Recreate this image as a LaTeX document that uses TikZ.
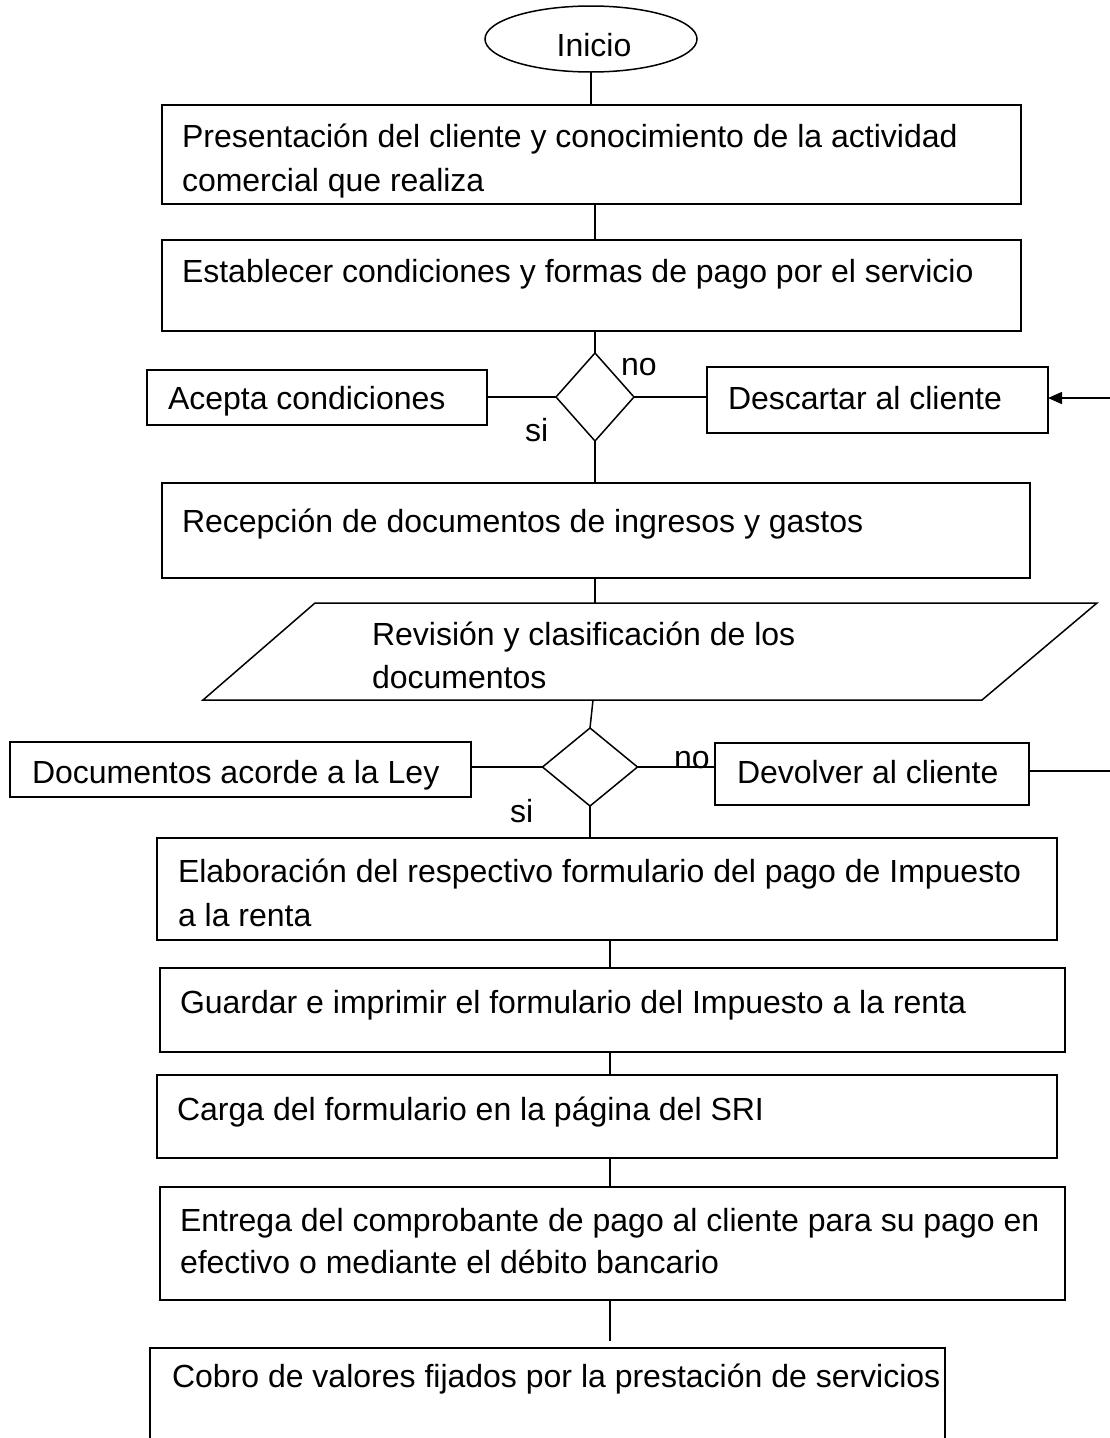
\documentclass[tikz,border=0pt]{standalone}
\usepackage{fontspec}
\setmainfont{Liberation Sans}
\usetikzlibrary{shapes.geometric,arrows.meta}
\begin{document}
\begin{tikzpicture}[x=1pt,y=-1pt,
  every node/.style={outer sep=0pt},
  box/.style={draw, line width=1.5pt, rectangle, anchor=north west, inner sep=0pt},
  txt/.style={anchor=base west, inner sep=0pt, font=\fontsize{32}{44}\selectfont},
  conn/.style={line width=1.5pt},
  dec/.style={draw, line width=1.5pt, diamond, inner sep=0pt},
]
\useasboundingbox (0,0) rectangle (1110,1438);

% start
\node[draw, line width=1.5pt, ellipse, minimum width=212, minimum height=66, inner sep=0pt] (start) at (591,39) {};
\node[anchor=base, inner sep=0pt, font=\fontsize{32}{44}\selectfont] (tstart) at (594,56) {Inicio};

% main boxes
\node[box, minimum width=859, minimum height=99] (b1) at (162,105) {};
\node[txt] (t1a) at (182,147) {Presentación del cliente y conocimiento de la actividad};
\node[txt] (t1b) at (182,191) {comercial que realiza};

\node[box, minimum width=859, minimum height=91] (b2) at (162,240) {};
\node[txt] (t2) at (182,282) {Establecer condiciones y formas de pago por el servicio};

% decision 1
\node[dec, minimum width=78, minimum height=88] (d1) at (595,397) {};
\node[box, minimum width=340, minimum height=55] (acc) at (147,370) {};
\node[txt] (tacc) at (168,409) {Acepta condiciones};
\node[box, minimum width=341, minimum height=66] (desc) at (707,367) {};
\node[txt] (tdesc) at (728,409) {Descartar al cliente};
\node[txt] (no1) at (621,375) {no};
\node[txt] (si1) at (525,441) {si};

\node[box, minimum width=868, minimum height=95] (b3) at (162,483) {};
\node[txt] (t3) at (182,532) {Recepción de documentos de ingresos y gastos};

% parallelogram
\draw[line width=1.5pt] (315,603) -- (1097,603) -- (982,700) -- (203,700) -- cycle;
\coordinate (ptop) at (595,603);
\coordinate (pbot) at (593,700);
\node[txt] (tpa) at (372,645) {Revisión y clasificación de los};
\node[txt] (tpb) at (372,688) {documentos};

% decision 2
\node[dec, minimum width=95, minimum height=78] (d2) at (590,767) {};
\node[box, minimum width=461, minimum height=55] (ley) at (10,742) {};
\node[txt] (tley) at (32,783) {Documentos acorde a la Ley};
\node[box, minimum width=314, minimum height=62] (dev) at (715,743) {};
\node[txt] (tdev) at (737,783) {Devolver al cliente};
\node[txt] (no2) at (674,768) {no};
\node[txt] (si2) at (510,822) {si};

\node[box, minimum width=900, minimum height=102] (b4) at (157,838) {};
\node[txt] (t4a) at (178,882) {Elaboración del respectivo formulario del pago de Impuesto};
\node[txt] (t4b) at (178,926) {a la renta};

\node[box, minimum width=905, minimum height=84] (b5) at (160,968) {};
\node[txt] (t5) at (180,1013) {Guardar e imprimir el formulario del Impuesto a la renta};

\node[box, minimum width=900, minimum height=83] (b6) at (157,1075) {};
\node[txt] (t6) at (177,1120) {Carga del formulario en la página del SRI};

\node[box, minimum width=905, minimum height=113] (b7) at (160,1187) {};
\node[txt] (t7a) at (180,1231) {Entrega del comprobante de pago al cliente para su pago en};
\node[txt] (t7b) at (180,1273) {efectivo o mediante el débito bancario};

\node[box, minimum width=795, minimum height=120] (b8) at (150,1348) {};
\node[txt] (t8) at (172,1387) {Cobro de valores fijados por la prestación de servicios};

\coordinate (edge1) at (1112,398);
\coordinate (edge2) at (1112,771);

% connectors
\draw[conn] (start.south) -- (start.south |- b1.north);
\draw[conn] (595,204) -- (595,240);
\draw[conn] (595,331) -- (d1.north);
\draw[conn] (d1.south) -- (d1.south |- b3.north);
\draw[conn] (acc.east |- d1.west) -- (d1.west);
\draw[conn] (d1.east) -- (desc.west |- d1.east);
\draw[conn, -{Triangle[length=14pt,width=12pt]}] (edge1) -- (edge1 -| desc.east);
\draw[conn] (595,578) -- (ptop);
\draw[conn] (pbot) -- (d2.north);
\draw[conn] (ley.east |- d2.west) -- (d2.west);
\draw[conn] (d2.east) -- (d2.east -| dev.west);
\draw[conn] (dev.east |- edge2) -- (edge2);
\draw[conn] (d2.south) -- (d2.south |- b4.north);
\draw[conn] (610,940) -- (610,968);
\draw[conn] (610,1052) -- (610,1075);
\draw[conn] (610,1158) -- (610,1187);
\draw[conn] (610,1300) -- (610,1341);
\end{tikzpicture}
\end{document}
